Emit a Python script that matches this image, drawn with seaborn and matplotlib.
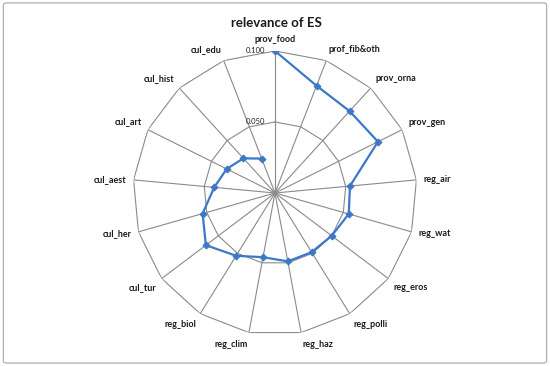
import numpy as np
import matplotlib
matplotlib.use("Agg")
import matplotlib.pyplot as plt
from matplotlib.patches import FancyBboxPatch
import seaborn as sns

categories = ["prov_food", "prof_fib&oth", "prov_orna", "prov_gen", "reg_air", "reg_wat",
              "reg_eros", "reg_polli", "reg_haz", "reg_clim", "reg_biol", "cul_tur",
              "cul_her", "cul_aest", "cul_art", "cul_hist", "cul_edu"]
relevance = [0.100, 0.081, 0.078, 0.081, 0.053, 0.054, 0.050, 0.049, 0.049, 0.046,
             0.052, 0.061, 0.053, 0.043, 0.038, 0.033, 0.026]
ring_values = [0.050, 0.100]
ring_labels = ["0.050", "0.100"]
title = "relevance of ES"

sns.set_style("white")
plt.rcParams["font.family"] = ["Lato", "DejaVu Sans"]

LINE = "#3C78C8"
GRID = "#8A8A8A"

fig = plt.figure(figsize=(5.5, 3.66), dpi=100)
fig.patches.append(FancyBboxPatch((0.006, 0.008), 0.988, 0.984, boxstyle="round,pad=0,rounding_size=0.006",
                                  transform=fig.transFigure, fill=False, edgecolor="#A6A6A6", linewidth=0.8))

ax = fig.add_axes([0.2418, 0.0847, 0.5164, 0.776], projection="polar")
ax.set_theta_zero_location("N")
ax.set_theta_direction(-1)
ax.set_ylim(0, 0.1)
ax.grid(False)
ax.set_xticks([])
ax.set_yticks([])
ax.spines["polar"].set_visible(False)
ax.patch.set_alpha(0)

n = len(categories)
theta = np.arange(n) * 2 * np.pi / n
theta_closed = np.append(theta, theta[0])

# spokes
for t in theta:
    ax.plot([t, t], [0, 0.1], color=GRID, lw=0.8, zorder=1)
# polygonal rings
for rv in ring_values:
    ax.plot(theta_closed, [rv] * (n + 1), color=GRID, lw=0.8, zorder=1)
for rv, lab in zip(ring_values, ring_labels):
    ax.annotate(lab, xy=(0, rv), xytext=(-7, 0), textcoords="offset points",
                ha="right", va="center", fontsize=5.5, color="#222222")

vals_closed = relevance + relevance[:1]
sns.lineplot(x=theta_closed, y=vals_closed, ax=ax, sort=False, color=LINE, lw=1.6,
             marker="D", markersize=3.5, markeredgecolor=LINE, zorder=3)
ax.set_xlabel("")
ax.set_ylabel("")

for t, lab in zip(theta, categories):
    s, c = np.sin(t), np.cos(t)
    ha = "left" if s > 0.1 else ("right" if s < -0.1 else "center")
    va = "bottom" if c > 0.3 else ("top" if c < -0.3 else "center")
    ax.text(t, 0.105, lab, ha=ha, va=va, fontsize=6.5, fontweight="bold", color="#1A1A1A")

fig.text(0.502, 0.937, title, ha="center", va="center", fontsize=9.5, fontweight="bold", color="#1A1A1A")

fig.savefig("out.png", dpi=100)
